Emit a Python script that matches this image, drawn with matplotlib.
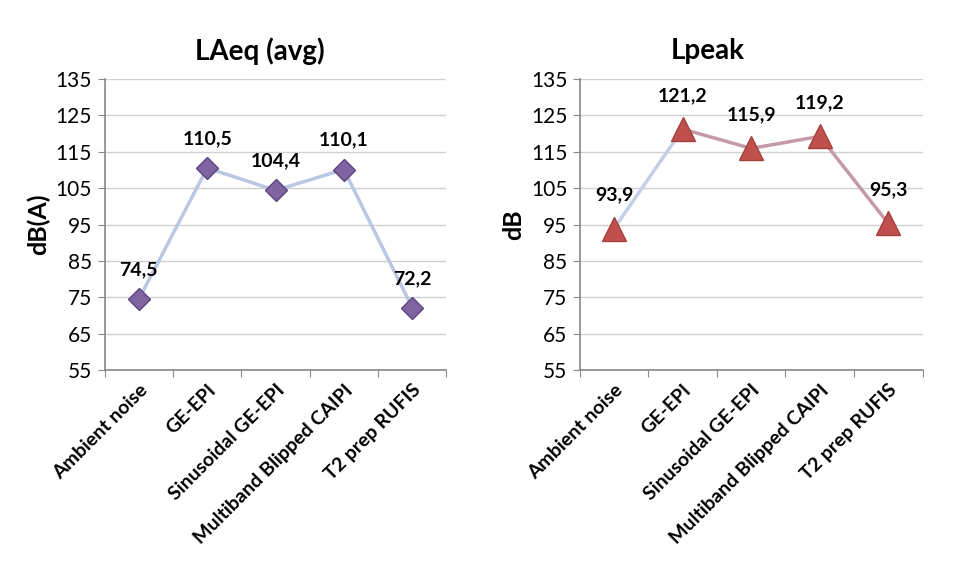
import matplotlib
matplotlib.use('Agg')
import matplotlib.pyplot as plt

plt.rcParams['font.family'] = ['Lato', 'DejaVu Sans']

categories = ['Ambient noise', 'GE-EPI', 'Sinusoidal GE-EPI',
              'Multiband Blipped CAIPI', 'T2 prep RUFIS']
laeq = [74.5, 110.5, 104.4, 110.1, 72.2]
lpeak = [93.9, 121.2, 115.9, 119.2, 95.3]
yticks = [55, 65, 75, 85, 95, 105, 115, 125, 135]


def style_axes(ax):
    ax.set_xlim(-0.5, len(categories) - 0.5)
    ax.set_ylim(55, 135)
    ax.set_yticks(yticks)
    ax.set_yticklabels([str(t) for t in yticks], fontsize=15)
    ax.yaxis.grid(True, color='#d0d0d0', linewidth=1)
    ax.set_axisbelow(True)
    for s in ['top', 'right']:
        ax.spines[s].set_visible(False)
    for s in ['left', 'bottom']:
        ax.spines[s].set_color('#888888')
        ax.spines[s].set_linewidth(1.2)
    ax.tick_params(axis='y', length=5, color='#888888', pad=4)
    # category boundary ticks
    ax.set_xticks([i - 0.5 for i in range(len(categories) + 1)], minor=False)
    ax.set_xticklabels([])
    ax.set_xticks(range(len(categories)), minor=True)
    ax.set_xticklabels(categories, minor=True, rotation=45, ha='right',
                       rotation_mode='anchor', fontsize=14, fontweight='bold')
    ax.tick_params(axis='x', which='major', length=5, color='#888888')
    ax.tick_params(axis='x', which='minor', length=0, pad=8)


def add_labels(ax, values, offset):
    for i, v in enumerate(values):
        ax.annotate(f'{v:.1f}'.replace('.', ','), (i, v), xytext=(0, offset),
                    textcoords='offset points', ha='center', va='bottom',
                    fontsize=14, fontweight='bold')


fig = plt.figure(figsize=(9.6, 5.67), dpi=100)
ax1 = fig.add_axes([0.109, 0.347, 0.356, 0.514])
ax2 = fig.add_axes([0.604, 0.347, 0.357, 0.514])

x = list(range(len(categories)))

ax1.plot(x, laeq, color='#b9c7e3', linewidth=2.5, zorder=2)
ax1.plot(x, laeq, linestyle='none', marker='D', markersize=11,
         markerfacecolor='#8064a2', markeredgecolor='#5a4580',
         markeredgewidth=1, zorder=3)
add_labels(ax1, laeq, 15)
style_axes(ax1)
ax1.set_ylabel('dB(A)', fontsize=18, fontweight='bold', labelpad=4)

seg_colors = ['#c3cfe6', '#c49aa8', '#c49aa8', '#c49aa8']
for i in range(len(lpeak) - 1):
    ax2.plot(x[i:i + 2], lpeak[i:i + 2], color=seg_colors[i], linewidth=2.5,
             zorder=2)
ax2.plot(x, lpeak, linestyle='none', marker='^', markersize=17,
         markerfacecolor='#c0504d', markeredgecolor='#a5403d',
         markeredgewidth=1, zorder=3)
add_labels(ax2, lpeak, 18)
style_axes(ax2)
ax2.set_ylabel('dB', fontsize=18, fontweight='bold', labelpad=4)

fig.text(0.271, 0.91, 'LAeq (avg)', ha='center', va='center',
         fontsize=20, fontweight='bold')
fig.text(0.737, 0.91, 'Lpeak', ha='center', va='center',
         fontsize=20, fontweight='bold')

fig.savefig('out.png', dpi=100)
